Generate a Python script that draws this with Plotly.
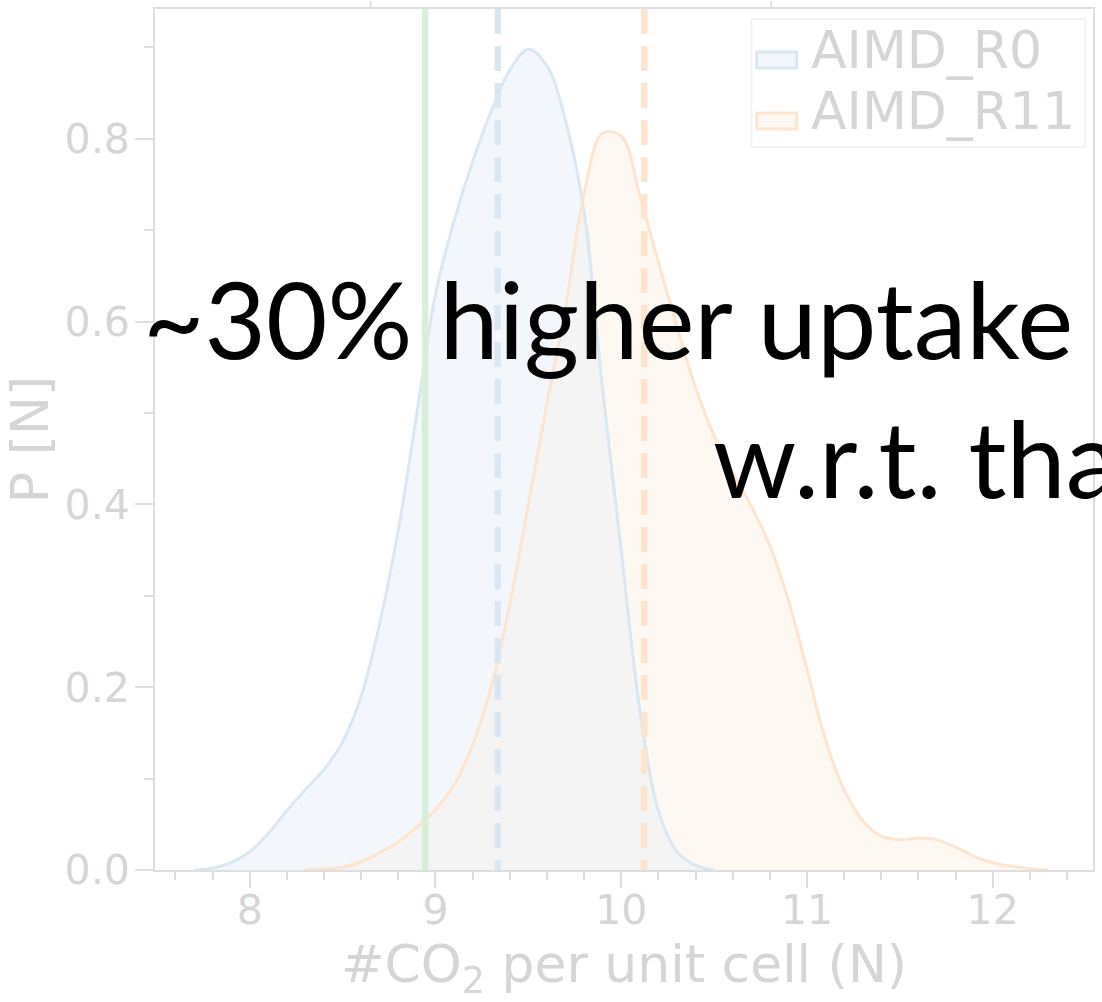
import numpy as np
import pandas as pd
import plotly.graph_objects as go

# Density of CO2 loading per unit cell for the two AIMD runs
r0_x = [7.7, 7.8, 7.9, 8.0, 8.1, 8.2, 8.3, 8.4, 8.5, 8.6, 8.7, 8.8, 8.9, 9.0, 9.1,
        9.2, 9.3, 9.4, 9.5, 9.6, 9.7, 9.8, 9.9, 10.0, 10.1, 10.2, 10.3, 10.4, 10.5]
r0_y = [0.000, 0.002, 0.008, 0.020, 0.040, 0.065, 0.088, 0.110, 0.140, 0.190, 0.270,
        0.372, 0.500, 0.630, 0.710, 0.775, 0.830, 0.875, 0.898, 0.880, 0.820, 0.720,
        0.525, 0.350, 0.175, 0.065, 0.020, 0.005, 0.000]

r11_x = [8.3, 8.4, 8.5, 8.6, 8.7, 8.8, 8.9, 9.0, 9.1, 9.2, 9.3, 9.4, 9.5, 9.6, 9.7,
         9.8, 9.9, 10.0, 10.1, 10.2, 10.3, 10.4, 10.5, 10.6, 10.7, 10.8, 10.9, 11.0,
         11.1, 11.2, 11.3, 11.4, 11.5, 11.6, 11.7, 11.8, 11.9, 12.0, 12.1, 12.2, 12.3]
r11_y = [0.000, 0.001, 0.003, 0.009, 0.019, 0.031, 0.047, 0.066, 0.093, 0.137, 0.200,
         0.290, 0.400, 0.510, 0.615, 0.740, 0.806, 0.803, 0.738, 0.665, 0.595, 0.528,
         0.475, 0.435, 0.398, 0.355, 0.295, 0.220, 0.142, 0.088, 0.054, 0.037, 0.033,
         0.035, 0.033, 0.025, 0.015, 0.008, 0.004, 0.0015, 0.000]

# Reference value and the two run means
reference_n = 8.944
mean_r0 = 9.335
mean_r11 = 10.124

series_names = ["AIMD_R0", "AIMD_R11"]
x_ticks = [8, 9, 10, 11, 12]
y_ticks = [0.0, 0.2, 0.4, 0.6, 0.8]

BLUE_LINE = "#d8e7f2"
BLUE_FILL = "#f3f7fb"
ORANGE_LINE = "#fde4cf"
ORANGE_FILL = "#fef8f3"
OVERLAP_FILL = "#f4f4f4"
GREEN_LINE = "#d9eed9"
AXIS_GREY = "#dedede"
TEXT_GREY = "#d5d5d5"

df0 = pd.DataFrame({"x": np.round(r0_x, 1), "r0": r0_y})
df11 = pd.DataFrame({"x": np.round(r11_x, 1), "r11": r11_y})
both = df0.merge(df11, on="x", how="inner")
both["overlap"] = np.minimum(both["r0"], both["r11"])

fig = go.Figure()

# filled areas: each run, then the shared region
fig.add_trace(go.Scatter(x=r0_x, y=r0_y, mode="lines", line=dict(width=0, shape="spline"),
                         fill="tozeroy", fillcolor=BLUE_FILL, hoverinfo="skip"))
fig.add_trace(go.Scatter(x=r11_x, y=r11_y, mode="lines", line=dict(width=0, shape="spline"),
                         fill="tozeroy", fillcolor=ORANGE_FILL, hoverinfo="skip"))
fig.add_trace(go.Scatter(x=both["x"], y=both["overlap"], mode="lines",
                         line=dict(width=0, shape="spline"),
                         fill="tozeroy", fillcolor=OVERLAP_FILL, hoverinfo="skip"))

# density outlines
fig.add_trace(go.Scatter(x=r0_x, y=r0_y, mode="lines", name=series_names[0],
                         line=dict(color=BLUE_LINE, width=3, shape="spline")))
fig.add_trace(go.Scatter(x=r11_x, y=r11_y, mode="lines", name=series_names[1],
                         line=dict(color=ORANGE_LINE, width=3, shape="spline")))

# vertical markers
fig.add_shape(type="line", xref="x", yref="paper", x0=reference_n, x1=reference_n, y0=0, y1=1,
              line=dict(color=GREEN_LINE, width=6.5))
fig.add_shape(type="line", xref="x", yref="paper", x0=mean_r0, x1=mean_r0, y0=1, y1=0,
              line=dict(color=BLUE_LINE, width=6.5, dash="25px,12px"))
fig.add_shape(type="line", xref="x", yref="paper", x0=mean_r11, x1=mean_r11, y0=1, y1=0,
              line=dict(color=ORANGE_LINE, width=6.5, dash="25px,12px"))

# tick stubs of the panel above, peeking over the top edge
for xp in (0.23, 0.657):
    fig.add_shape(type="line", xref="paper", yref="paper", x0=xp, x1=xp, y0=1.002, y1=1.0093,
                  line=dict(color=AXIS_GREY, width=2))

# legend box
fig.add_shape(type="rect", xref="paper", yref="paper", x0=0.636, x1=0.9915, y0=0.8397, y1=0.9884,
              line=dict(color="#efefef", width=1.5), fillcolor="rgba(255,255,255,0.6)")
legend_rows = [(0.9315, 0.950, BLUE_LINE, BLUE_FILL), (0.8606, 0.8792, ORANGE_LINE, ORANGE_FILL)]
for name, (y0, y1, lc, fc) in zip(series_names, legend_rows):
    fig.add_shape(type="rect", xref="paper", yref="paper", x0=0.6415, x1=0.684, y0=y0, y1=y1,
                  line=dict(color=lc, width=3), fillcolor=fc)
    fig.add_annotation(xref="paper", yref="paper", x=0.6968, y=(y0 + y1) / 2 + 0.012,
                       xanchor="left", yanchor="middle", text=name, showarrow=False,
                       font=dict(family="DejaVu Sans", size=52, color=TEXT_GREY))

# overlay statement
fig.add_annotation(xref="paper", yref="paper", x=-0.0145, y=0.641, xanchor="left", yanchor="middle",
                   text="~30% higher uptake", showarrow=False,
                   font=dict(family="Lato", size=106, color="black"))
fig.add_annotation(xref="paper", yref="paper", x=0.5926, y=0.4795, xanchor="left", yanchor="middle",
                   text="w.r.t. that", showarrow=False,
                   font=dict(family="Lato", size=106, color="black"))

axis_common = dict(showgrid=False, zeroline=False, showline=True, linecolor=AXIS_GREY,
                   linewidth=2, mirror=True, ticks="outside", tickcolor=AXIS_GREY, tickwidth=2,
                   tickfont=dict(family="DejaVu Sans", size=41, color=TEXT_GREY))

fig.update_xaxes(range=[7.49, 12.54], tickvals=x_ticks, ticktext=[str(v) for v in x_ticks],
                 ticklen=16, ticklabelstandoff=-13,
                 minor=dict(tick0=8, dtick=0.2, ticks="outside", ticklen=8, tickcolor=AXIS_GREY,
                            tickwidth=1.5),
                 title=dict(text="#CO<sub>2</sub> per unit cell (N)", standoff=18,
                            font=dict(family="DejaVu Sans", size=52, color=TEXT_GREY)),
                 **axis_common)
fig.update_yaxes(range=[0, 0.942], tickvals=y_ticks, ticktext=[f"{v:.1f}" for v in y_ticks],
                 ticklen=18, ticklabelstandoff=-3,
                 minor=dict(tick0=0, dtick=0.1, ticks="outside", ticklen=9, tickcolor=AXIS_GREY,
                            tickwidth=1.5),
                 title=dict(text="P [N]", standoff=2,
                            font=dict(family="DejaVu Sans", size=52, color=TEXT_GREY)),
                 **axis_common)

fig.update_layout(width=1102, height=1002, margin=dict(l=155, r=7, t=8, b=132),
                  plot_bgcolor="white", paper_bgcolor="white", showlegend=False)

fig.write_html("out.html")
